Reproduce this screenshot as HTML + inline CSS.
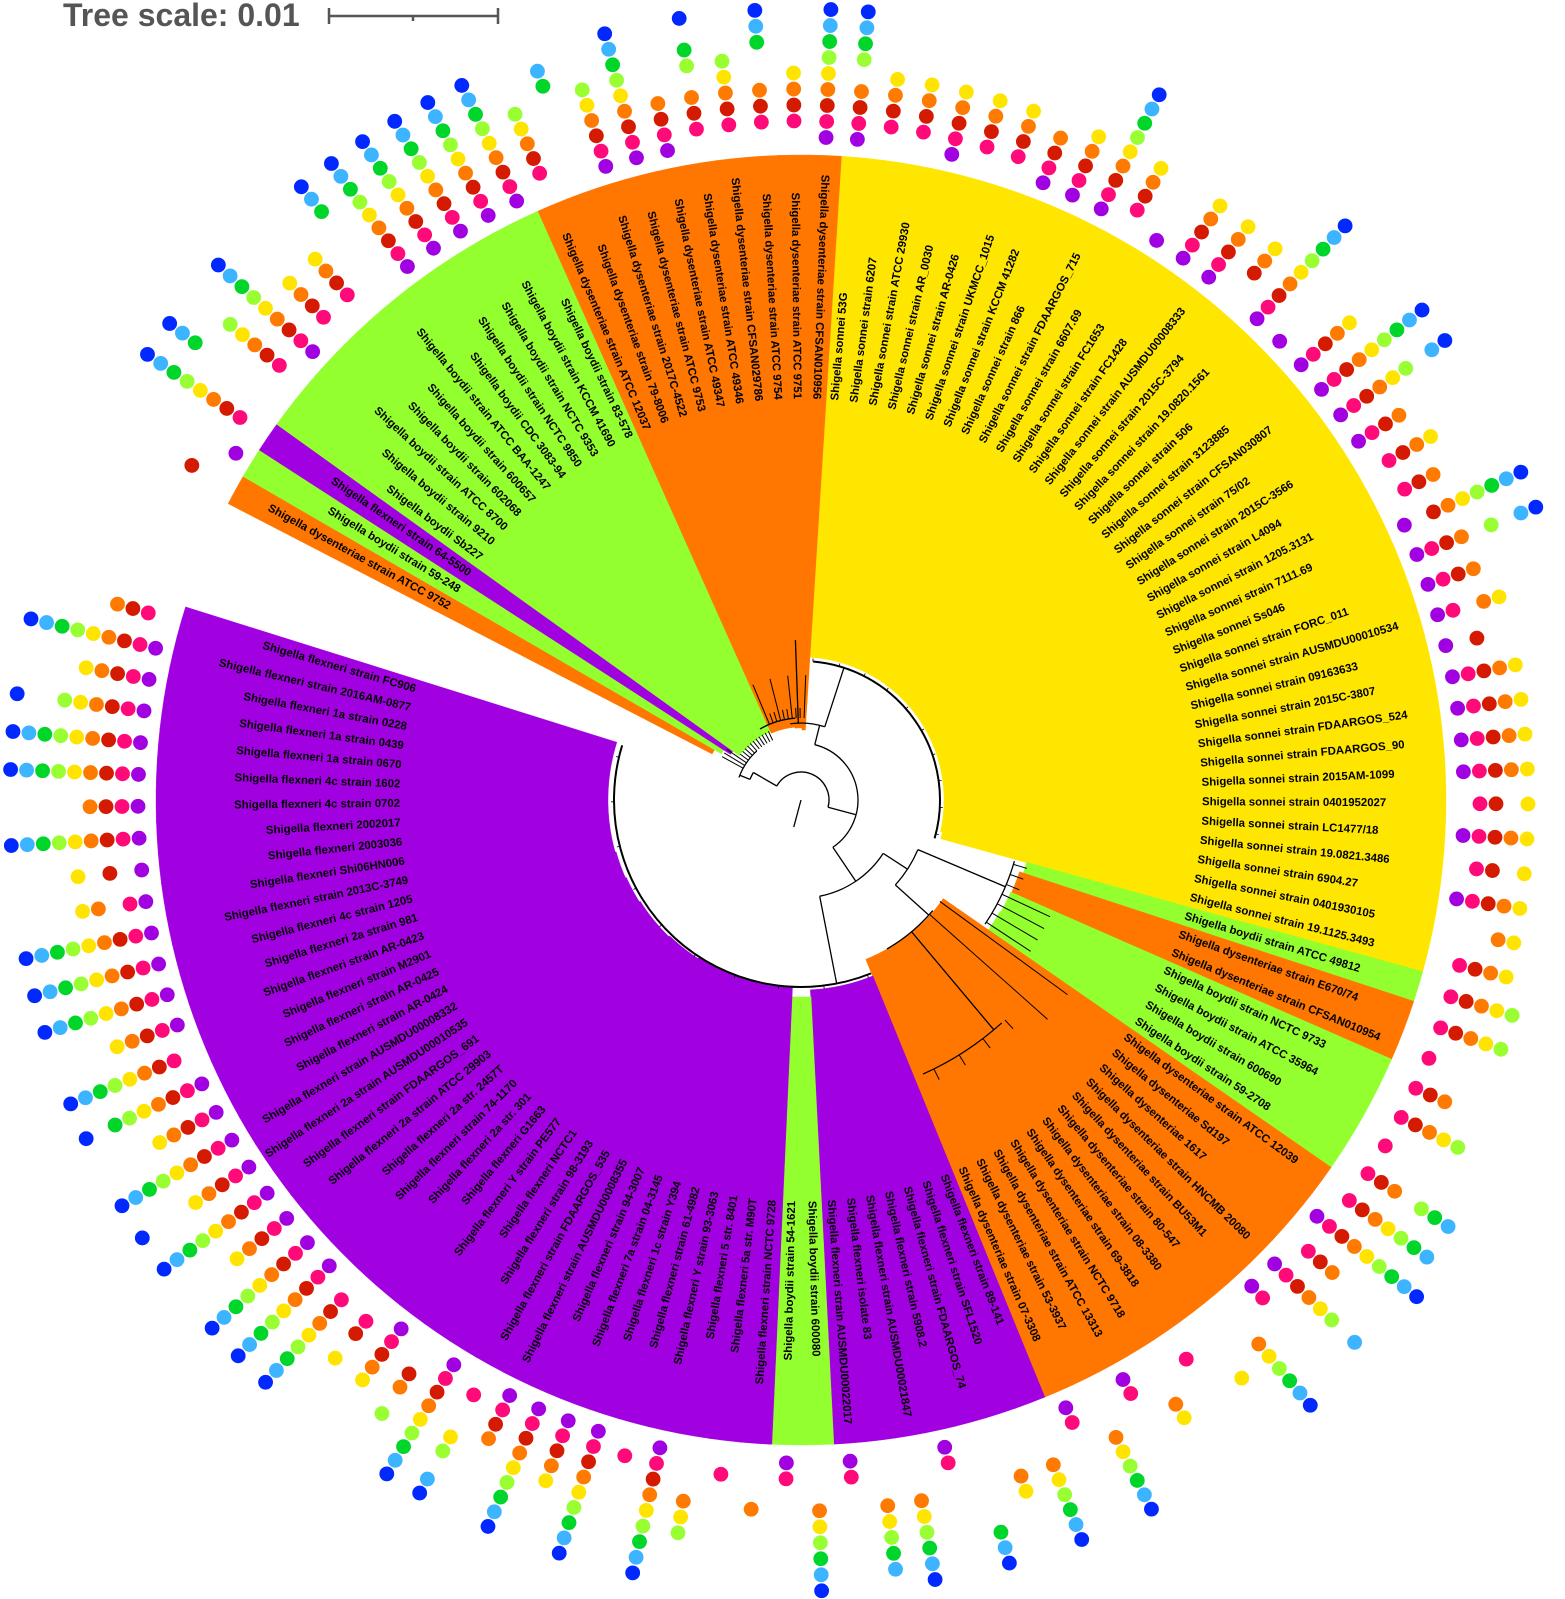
<!DOCTYPE html>
<html><head><meta charset="utf-8"><style>
html,body{margin:0;padding:0;background:#fff;}
svg{display:block;}
text{font-family:"Liberation Sans",Arial,sans-serif;}
</style></head><body>
<svg id="chart" width="1565" height="1599" viewBox="0 0 1565 1599" xmlns="http://www.w3.org/2000/svg">
<g>
<text x="63" y="26" font-size="32" font-weight="bold" fill="#555">Tree scale: 0.01</text>
<line x1="329" y1="16" x2="498" y2="16" stroke="#555" stroke-width="2.5"/>
<line x1="329" y1="8" x2="329" y2="24" stroke="#555" stroke-width="2.5"/>
<line x1="498" y1="8" x2="498" y2="24" stroke="#555" stroke-width="2.5"/>
<line x1="413" y1="16" x2="413" y2="21" stroke="#555" stroke-width="2.5"/>
</g>
<g id="wedges"></g>
<g id="tree"></g>
<g id="labels"></g>
<g id="dots"></g>
</svg>
<script>
const leafNames = [
"Shigella sonnei 53G","Shigella sonnei strain 6207","Shigella sonnei strain ATCC 29930","Shigella sonnei strain AR_0030","Shigella sonnei strain AR-0426","Shigella sonnei strain UKMCC_1015","Shigella sonnei strain KCCM 41282","Shigella sonnei strain 866","Shigella sonnei strain FDAARGOS_715","Shigella sonnei strain 6607.69","Shigella sonnei strain FC1653","Shigella sonnei strain FC1428","Shigella sonnei strain AUSMDU00008333","Shigella sonnei strain 2015C-3794","Shigella sonnei strain 19.0820.1561","Shigella sonnei strain 506","Shigella sonnei strain 3123885","Shigella sonnei strain CFSAN030807","Shigella sonnei strain 75/02","Shigella sonnei strain 2015C-3566","Shigella sonnei strain L4094","Shigella sonnei strain 1205.3131","Shigella sonnei strain 7111.69","Shigella sonnei Ss046","Shigella sonnei strain FORC_011","Shigella sonnei strain AUSMDU00010534","Shigella sonnei strain 09163633","Shigella sonnei strain 2015C-3807","Shigella sonnei strain FDAARGOS_524","Shigella sonnei strain FDAARGOS_90","Shigella sonnei strain 2015AM-1099","Shigella sonnei strain 0401952027","Shigella sonnei strain LC1477/18","Shigella sonnei strain 19.0821.3486","Shigella sonnei strain 6904.27","Shigella sonnei strain 0401930105","Shigella sonnei strain 19.1125.3493",
"Shigella boydii strain ATCC 49812",
"Shigella dysenteriae strain E670/74","Shigella dysenteriae strain CFSAN010954",
"Shigella boydii strain NCTC 9733","Shigella boydii strain ATCC 35964","Shigella boydii strain 600690","Shigella boydii strain 59-2708",
"Shigella dysenteriae strain ATCC 12039","Shigella dysenteriae Sd197","Shigella dysenteriae 1617","Shigella dysenteriae strain HNCMB 20080","Shigella dysenteriae strain BU53M1","Shigella dysenteriae strain 80-547","Shigella dysenteriae strain 08-3380","Shigella dysenteriae strain 69-3818","Shigella dysenteriae strain NCTC 9718","Shigella dysenteriae strain ATCC 13313","Shigella dysenteriae strain 53-3937","Shigella dysenteriae strain 07-3308",
"Shigella flexneri strain 89-141","Shigella flexneri strain SFL1520","Shigella flexneri strain FDAARGOS_74","Shigella flexneri strain 5908.2","Shigella flexneri strain AUSMDU00021847","Shigella flexneri isolate 83","Shigella flexneri strain AUSMDU00022017",
"Shigella boydii strain 600080","Shigella boydii strain 54-1621",
"Shigella flexneri strain NCTC 9728","Shigella flexneri 5a str. M90T","Shigella flexneri 5 str. 8401","Shigella flexneri Y strain 93-3063","Shigella flexneri strain 61-4982","Shigella flexneri 1c strain Y394","Shigella flexneri 7a strain 04-3145","Shigella flexneri strain 94-3007","Shigella flexneri strain AUSMDU00008355","Shigella flexneri strain FDAARGOS_535","Shigella flexneri strain 98-3193","Shigella flexneri NCTC1","Shigella flexneri Y strain PE577","Shigella flexneri G1663","Shigella flexneri 2a str. 301","Shigella flexneri strain 74-1170","Shigella flexneri 2a str. 2457T","Shigella flexneri 2a strain ATCC 29903","Shigella flexneri strain FDAARGOS_691","Shigella flexneri 2a strain AUSMDU00010535","Shigella flexneri strain AUSMDU00008332","Shigella flexneri strain AR-0424","Shigella flexneri strain AR-0425","Shigella flexneri strain M2901","Shigella flexneri strain AR-0423","Shigella flexneri 2a strain 981","Shigella flexneri 4c strain 1205","Shigella flexneri strain 2013C-3749","Shigella flexneri Shi06HN006","Shigella flexneri 2003036","Shigella flexneri 2002017","Shigella flexneri 4c strain 0702","Shigella flexneri 4c strain 1602","Shigella flexneri 1a strain 0670","Shigella flexneri 1a strain 0439","Shigella flexneri 1a strain 0228","Shigella flexneri strain 2016AM-0877","Shigella flexneri strain FC906",
"Shigella dysenteriae strain ATCC 9752","Shigella boydii strain 59-248","Shigella flexneri strain 64-5500",
"Shigella boydii Sb227","Shigella boydii strain 9210","Shigella boydii strain ATCC 8700","Shigella boydii strain 602068","Shigella boydii strain 600657","Shigella boydii strain ATCC BAA-1247","Shigella boydii CDC 3083-94","Shigella boydii strain NCTC 9850","Shigella boydii strain NCTC 9353","Shigella boydii strain KCCM 41690","Shigella boydii strain 83-578",
"Shigella dysenteriae strain ATCC 12037","Shigella dysenteriae strain 79-8006","Shigella dysenteriae strain 2017C-4522","Shigella dysenteriae strain ATCC 9753","Shigella dysenteriae strain ATCC 49347","Shigella dysenteriae strain ATCC 49346","Shigella dysenteriae strain CFSAN029786","Shigella dysenteriae strain ATCC 9754","Shigella dysenteriae strain ATCC 9751","Shigella dysenteriae strain CFSAN010956"
];
const leafGroups = "SSSSSSSSSSSSSSSSSSSSSSSSSSSSSSSSSSSSSBDDBBBBDDDDDDDDDDDDFFFFFFFBBFFFFFFFFFFFFFFFFFFFFFFFFFFFFFFFFFFFFFFDBFBBBBBBBBBBBDDDDDDDDDD";
const leafTipRadius = [
143,143,143,143,143,143,143,143,143,143,143,143,143,143,143,143,143,143,143,143,143,143,143,143,143,143,143,143,143,143,143,143,143,143,143,143,145,
234,230,230,229,229,228,228,
173,173,173,173,172,172,172,172,172,172,172,172,
190,190,190,190,190,190,190,
197,197,
188,188,188,188,188,188,188,188,188,188,188,189,189,189,189,190,190,190,190,190,191,191,191,192,192,192,193,193,193,193,193,193,193,193,193,193,193,193,
100,92,84,
76,76,75,75,75,75,75,75,75,75,75,
73,73,73,73,73,73,73,72,72,70
];
// bits: purple,pink,red,orange,yellow,yellowgreen,green,lightblue,blue (inner -> outer)
const dotBits = [
"111101111","011110000","011110000","111110000","011110000","011110000","111100000","111110000","111111111","011110000",
"100000000","111110000","111110000","001110000","111111111","100000000","111110000","111111111","111111011","111100000",
"011110000","011100000","101111111","111101011","111100000","110110000","101000000","111110000","111110000","111110000",
"111110000","011010000","111110000","011010000","111110000","000110000","011110000",
"011111000","011111000","010000000","011100000","011111000","010000000","011101110",
"011111110","111111111","011100000","111111010","110000000","000111111","000010000","010000000","000110000","110000000","000111111","110000000",
"000111111","000110000","000000111","110000000","000111111","000111110","110000000",
"000111111","110000000",
"000100000","010000000","000111000","111111111","010000000","111111111","111110000","111111111","111100000","010011011",
"111111111","001101000","111110000","011010000","011111111","111111111","111111111","111110000","111111111","111110001",
"111111111","111110000","111111101","011111111","111110000","111111111","111111111","111111111","110110000","101010000",
"111111111","111100000","111111111","111111111","111111001","111110000","111111111","011100000",
"001000000","100000000","011111111",
"000000111","011111000","111111111","011110000","011110000","000000111","111111111","111111111","111111111","111111111","111111111",
"011111000","000000110","111111000","111111111","111100000","011101101","011111000","011100111","011110000","111111111"
];
const groupColors = {S:"#ffe600",B:"#94ff2e",D:"#ff7600",F:"#a100e0"};
const ringColors = ["#a100e0","#ff0a78","#d41a00","#ff7a00","#ffe400","#99ff33","#00d52a","#3cb4ff","#0028ff"];

const CX = 801, CY = 800, ROUT = 645, LABEL_R = 401, RING0 = 663, RING_STEP = 16, DOT_R = 7.4;
const STEP = 2.756, A0 = 3.5, A1 = 297.4;
const NS = "http://www.w3.org/2000/svg";
function leafAngle(i){ return i < 103 ? A0 + (i + 0.5) * STEP : A1 + (i - 103 + 0.5) * STEP; }
function px(a, r){ const t = a * Math.PI / 180; return [CX + r * Math.sin(t), CY - r * Math.cos(t)]; }
function mk(tag, attrs, parent){ const e = document.createElementNS(NS, tag); for (const k in attrs) e.setAttribute(k, attrs[k]); parent.appendChild(e); return e; }

const gW = document.getElementById('wedges');
const gT = document.getElementById('tree');
const gL = document.getElementById('labels');
const gD = document.getElementById('dots');

for (let i = 0; i < leafNames.length; i++) {
  const a = leafAngle(i), c = groupColors[leafGroups[i]];
  const a1 = a - STEP / 2 - 0.05, a2 = a + STEP / 2 + 0.05, ri = leafTipRadius[i];
  const p1 = px(a1, ri), p2 = px(a1, ROUT), p3 = px(a2, ROUT), p4 = px(a2, ri);
  const w = mk('path', {d: `M${p1[0]},${p1[1]} L${p2[0]},${p2[1]} A${ROUT},${ROUT} 0 0 1 ${p3[0]},${p3[1]} L${p4[0]},${p4[1]} A${ri},${ri} 0 0 0 ${p1[0]},${p1[1]} Z`, fill: c, stroke: c, 'stroke-width': 0.4}, gW);
  
  

  const lp = px(a, LABEL_R);
  const right = a < 180;
  const rot = right ? a - 90 : a - 270;
  const t = mk('text', {x: lp[0], y: lp[1], 'font-size': 11.4, 'font-weight': 'bold', fill: '#000', 'text-anchor': right ? 'start' : 'end', 'dominant-baseline': 'central', transform: `rotate(${rot} ${lp[0]} ${lp[1]})`}, gL);
  t.textContent = leafNames[i];
  
  

  const bits = dotBits[i] || "000000000";
  for (let k = 0; k < 9; k++) {
    if (bits[k] === '1') {
      const dp = px(a, RING0 + RING_STEP * k);
      const d = mk('circle', {cx: dp[0], cy: dp[1], r: DOT_R, fill: ringColors[k]}, gD);
      
      
    }
  }
}

function arc(r, a1, a2, w){ const p = px(a1, r), q = px(a2, r); const large = (a2 - a1) > 180 ? 1 : 0;
  const e = mk('path', {d: `M${p[0]},${p[1]} A${r},${r} 0 ${large} 1 ${q[0]},${q[1]}`, fill: 'none', stroke: '#000', 'stroke-width': w || 1.3}, gT);
  
   }
function rad(a, r1, r2, w){ const p = px(a, r1), q = px(a, r2);
  const e = mk('line', {x1: p[0], y1: p[1], x2: q[0], y2: q[1], stroke: '#000', 'stroke-width': w || 1.3}, gT);
  
   }

rad(195, 0, 28);
arc(28, 300, 465);
rad(300, 28, 55); rad(105, 28, 57);
arc(57, 14, 146);
rad(14, 57, 77); arc(77, 352, 378);
rad(18, 77, 122);
arc(139, 5, 106, 2);
rad(18, 122, 139);
for (let i = 0; i < 37; i += 4) rad(leafAngle(i), 139, 142, 0.8);
rad(358, 77, 160);
arc(82, 330, 356);
for (let i = 117; i < 127; i++) rad(leafAngle(i), 82, i % 3 === 0 ? 125 : 92, 1);
arc(55, 292, 300); rad(292, 55, 66); arc(66, 290, 318);
for (let i = 103; i < 117; i++) rad(leafAngle(i), 66, i < 106 ? 90 : 76, 1);
rad(146, 57, 98); arc(98, 123, 169);
rad(123, 98, 127); arc(127, 113, 132);
rad(113, 127, 222); arc(222, 106, 124);
for (let i = 37; i < 44; i++) rad(leafAngle(i), 222, i > 39 ? 275 : 236, 1);
rad(132, 127, 172); arc(172, 130, 150);
rad(140, 172, 300); arc(300, 138, 156);
for (let i = 44; i < 56; i += 2) rad(leafAngle(i), i < 47 ? 172 : 300, i < 47 ? 330 : 312, 1);
rad(169, 98, 180); arc(187, 158, 287, 2);
rad(169, 180, 187);
for (let i = 56; i < 103; i += 5) rad(leafAngle(i), 187, 190, 0.8);
</script>
</body></html>
